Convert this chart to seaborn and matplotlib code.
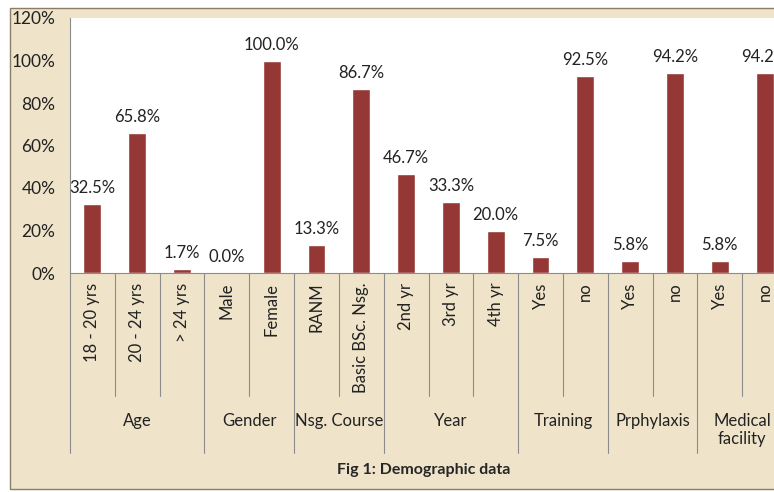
import matplotlib
matplotlib.use("Agg")
import matplotlib.pyplot as plt
import matplotlib.transforms as mtransforms
from matplotlib.patches import Rectangle
import pandas as pd
import seaborn as sns

# Demographic data (percent)
groups = ["Age", "Gender", "Nsg. Course", "Year", "Training", "Prphylaxis", "Medical\nfacility"]
group_sizes = [3, 2, 2, 3, 2, 2, 2]
labels = ["18 - 20 yrs", "20 - 24 yrs", "> 24 yrs",
          "Male", "Female",
          "RANM", "Basic BSc. Nsg.",
          "2nd yr", "3rd yr", "4th yr",
          "Yes", "no",
          "Yes", "no",
          "Yes", "no"]
values = [32.5, 65.8, 1.7,
          0.0, 100.0,
          13.3, 86.7,
          46.7, 33.3, 20.0,
          7.5, 92.5,
          5.8, 94.2,
          5.8, 94.2]
y_ticks = [0, 20, 40, 60, 80, 100, 120]

BAR = "#953735"
PAPER = "#efe4ca"
LINE = "#8c8c8c"


def main():
    sns.set_style("white")
    plt.rcParams["font.family"] = ["Lato", "DejaVu Sans"]

    group_of = []
    for g, n in zip(groups, group_sizes):
        group_of += [g] * n
    df = pd.DataFrame({"group": group_of, "label": labels, "value": values})
    df["key"] = df["group"] + "|" + df["label"]

    fig = plt.figure(figsize=(7.74, 4.92), dpi=100)
    fig.patch.set_facecolor("white")
    # chart area (parchment), drawn behind the axes
    fig.patches.append(Rectangle((10 / 774, 3 / 492), 1.0, 481 / 492,
                                 transform=fig.transFigure, facecolor=PAPER,
                                 edgecolor="#8a7c66", linewidth=1.0, zorder=-10))

    ax = fig.add_axes([70 / 774, (492 - 273) / 492, 717 / 774, 255 / 492])
    ax.set_zorder(1)
    ax.set_facecolor("white")

    sns.barplot(data=df, x="key", y="value", order=list(df["key"]),
                color=BAR, width=0.4, saturation=1, ax=ax)

    ax.set_xlim(-0.5, len(labels) - 0.5)
    ax.set_ylim(0, 120)
    ax.set_yticks(y_ticks)
    ax.set_yticklabels([f"{t}%" for t in y_ticks], fontsize=12.5, color="#222222")
    ax.set_xticks(range(len(labels)))
    ax.set_xticklabels(labels, rotation=90, va="top", ha="center", fontsize=12,
                       color="#222222")
    ax.tick_params(axis="x", length=0, pad=7)
    ax.tick_params(axis="y", length=4.5, width=0.8, color=LINE, direction="out", pad=6)
    ax.set_xlabel("")
    ax.set_ylabel("")

    for side in ["top", "right"]:
        ax.spines[side].set_visible(False)
    for side in ["left", "bottom"]:
        ax.spines[side].set_color(LINE)
        ax.spines[side].set_linewidth(0.8)

    # value labels
    for i, v in enumerate(values):
        ax.annotate(f"{v:.1f}%", (i, v), xytext=(0, 11), textcoords="offset pixels",
                    ha="center", va="baseline", fontsize=12, color="#222222")

    # multi-level category separators and group labels
    trans = mtransforms.blended_transform_factory(ax.transData, ax.transAxes)
    short_y = -123 / 255
    long_y = -180 / 255
    edges = [-0.5]
    pos = -0.5
    for n in group_sizes:
        pos += n
        edges.append(pos)
    for i in range(len(labels) + 1):
        x = i - 0.5
        bottom = long_y if x in edges else short_y
        ax.plot([x, x], [0, bottom], transform=trans, color=LINE,
                linewidth=0.8, clip_on=False)
    for g, a, b in zip(groups, edges[:-1], edges[1:]):
        ax.text((a + b) / 2, -140 / 255, g, transform=trans, ha="center",
                va="top", fontsize=12, color="#222222", linespacing=1.15)

    fig.text(424 / 774, (492 - 470) / 492, "Fig 1: Demographic data",
             ha="center", va="center", fontsize=11.5, fontweight="bold")

    fig.savefig("out.png", dpi=100, facecolor=fig.get_facecolor())
    plt.close(fig)


if __name__ == "__main__":
    main()
